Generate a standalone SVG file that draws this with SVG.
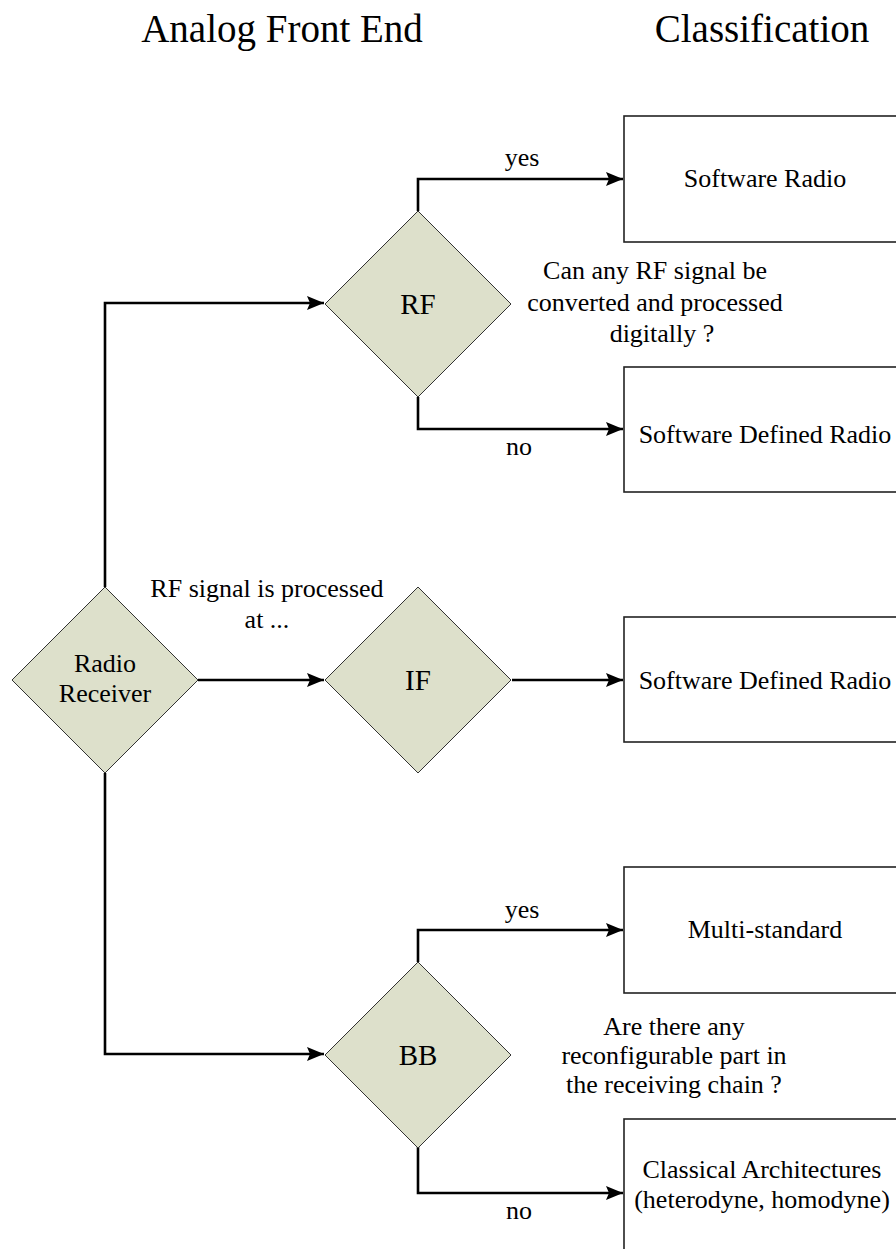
<svg xmlns="http://www.w3.org/2000/svg" width="896" height="1249" viewBox="0 0 896 1249">
<style>
text{font-family:"Liberation Serif","Times New Roman",serif;fill:#000;text-anchor:middle}
.h{font-size:39px}
.t{font-size:26px}
.d{font-size:29px}
.dia{fill:#dde0cb;stroke:#333;stroke-width:1}
.box{fill:#fff;stroke:#222;stroke-width:1.6}
.c{fill:none;stroke:#000;stroke-width:2.6;marker-end:url(#ah)}
</style>
<defs>
<marker id="ah" markerUnits="userSpaceOnUse" markerWidth="18" markerHeight="16" refX="17" refY="7" orient="auto">
<path d="M0,0 L17,7 L0,14 L3,7 Z" fill="#000"/>
</marker>
</defs>
<rect width="896" height="1249" fill="#fff"/>
<text class="h" x="282" y="42">Analog Front End</text>
<text class="h" x="762" y="42">Classification</text>
<g id="connectors">
<path class="c" d="M105,587 V303 H324"/>
<path class="c" d="M105,773 V1054 H324"/>
<path class="c" d="M198,680 H324"/>
<path class="c" d="M418,211 V179 H623"/>
<path class="c" d="M418,397 V429 H623"/>
<path class="c" d="M512,680 H623"/>
<path class="c" d="M418,962 V930 H623"/>
<path class="c" d="M418,1147 V1193 H623"/>
</g>
<g id="radio-receiver">
<polygon class="dia" points="105,587 198,680 105,773 12,680"/>
<text class="t" x="105" y="672">Radio</text>
<text class="t" x="105" y="702">Receiver</text>
</g>
<g id="rf">
<polygon class="dia" points="418,211 511,304 418,397 325,304"/>
<text class="d" x="418" y="314">RF</text>
</g>
<g id="if">
<polygon class="dia" points="418,587 511,680 418,773 325,680"/>
<text class="d" x="418" y="690">IF</text>
</g>
<g id="bb">
<polygon class="dia" points="418,962 511,1055 418,1148 325,1055"/>
<text class="d" x="418" y="1065">BB</text>
</g>
<g id="software-radio">
<rect class="box" x="624" y="116" width="280" height="126"/>
<text class="t" x="765" y="187">Software Radio</text>
</g>
<g id="sdr-rf">
<rect class="box" x="624" y="367" width="280" height="125"/>
<text class="t" x="765" y="443">Software Defined Radio</text>
</g>
<g id="sdr-if">
<rect class="box" x="624" y="617" width="280" height="125"/>
<text class="t" x="765" y="689">Software Defined Radio</text>
</g>
<g id="multi-standard">
<rect class="box" x="624" y="867" width="280" height="126"/>
<text class="t" x="765" y="938">Multi-standard</text>
</g>
<g id="classical">
<rect class="box" x="624" y="1119" width="280" height="140"/>
<text class="t" x="762" y="1178">Classical Architectures</text>
<text class="t" x="762" y="1208">(heterodyne, homodyne)</text>
</g>
<g id="labels">
<text class="t" x="522" y="166">yes</text>
<text class="t" x="519" y="455">no</text>
<text class="t" x="522" y="918">yes</text>
<text class="t" x="519" y="1219">no</text>
<text class="t" x="655" y="279">Can any RF signal be</text>
<text class="t" x="655" y="311">converted and processed</text>
<text class="t" x="662" y="342">digitally ?</text>
<text class="t" x="267" y="597">RF signal is processed</text>
<text class="t" x="267" y="628">at ...</text>
<text class="t" x="674" y="1035">Are there any</text>
<text class="t" x="674" y="1064">reconfigurable part in</text>
<text class="t" x="674" y="1093">the receiving chain ?</text>
</g>
</svg>
